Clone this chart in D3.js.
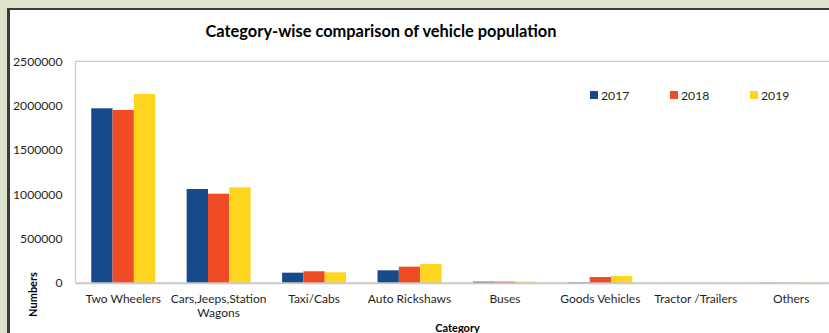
<!DOCTYPE html>
<html>
<head>
<meta charset="utf-8">
<script src="https://cdn.jsdelivr.net/npm/d3@7"></script>
<style>
  html, body { margin: 0; padding: 0; background: #dfe3cb; overflow: hidden; }
  svg { display: block; }
  text { font-family: Lato, "Open Sans", sans-serif; }
</style>
</head>
<body>
<script>
// Registered vehicles by category and year
const categories = ["Two Wheelers", "Cars,Jeeps,Station Wagons", "Taxi/Cabs", "Auto Rickshaws",
                    "Buses", "Goods Vehicles", "Tractor /Trailers", "Others"];
const years = ["2017", "2018", "2019"];
const values2017 = [1969000, 1058000, 113000, 140000, 12000, 6000, 500, 3000];
const values2018 = [1950000, 1005000, 129000, 181000, 12000, 64000, 500, 3000];
const values2019 = [2131000, 1077000, 117000, 211000, 12000, 76000, 500, 3000];
const yTicks = [0, 500000, 1000000, 1500000, 2000000, 2500000];
const colors = ["#174a8b", "#ef4b24", "#fdd41e"];

const series = [values2017, values2018, values2019];
const rows = categories.map((c, i) => ({ category: c, values: years.map((y, j) => ({ year: y, value: series[j][i] })) }));

const W = 829, H = 333;
const svg = d3.select("body").append("svg").attr("width", W).attr("height", H);

// chart card with dark edge
svg.append("rect").attr("x", 7).attr("y", 8).attr("width", W).attr("height", H).attr("fill", "#3b3b3b");
svg.append("rect").attr("x", 10).attr("y", 10).attr("width", W).attr("height", H).attr("fill", "#ffffff");

const plot = { left: 75.5, top: 61.3, right: 838.9, bottom: 282.7 };

const x0 = d3.scaleBand().domain(categories).range([plot.left, plot.right]).paddingInner(0.33).paddingOuter(0.165);
const x1 = d3.scaleBand().domain(years).range([0, x0.bandwidth()]);
const y = d3.scaleLinear().domain([0, 2500000]).range([plot.bottom, plot.top]);

// plot frame
svg.append("path")
  .attr("d", `M${plot.left},${plot.bottom} V${plot.top} H${W + 10}`)
  .attr("fill", "none").attr("stroke", "#c9c9c9").attr("stroke-width", 1.2);

// y axis labels
const yAxis = d3.axisLeft(y).tickValues(yTicks).tickSize(0).tickPadding(13).tickFormat(d3.format("d"));
const gy = svg.append("g").attr("transform", `translate(${plot.left},0)`).call(yAxis);
gy.select(".domain").remove();
gy.selectAll("text").attr("font-size", 12.2).attr("fill", "#1f1f1f").attr("font-family", "Lato, sans-serif");

// bars
const groups = svg.append("g").selectAll("g").data(rows).join("g")
  .attr("transform", d => `translate(${x0(d.category)},0)`);
groups.selectAll("rect").data(d => d.values).join("rect")
  .attr("x", d => x1(d.year))
  .attr("width", x1.bandwidth())
  .attr("y", d => y(d.value))
  .attr("height", d => y(0) - y(d.value))
  .attr("fill", (d, i) => colors[i]);

// baseline
svg.append("line").attr("x1", plot.left).attr("x2", W + 10)
  .attr("y1", plot.bottom + 0.5).attr("y2", plot.bottom + 0.5)
  .attr("stroke", "#bfbfbf").attr("stroke-width", 2).attr("stroke-opacity", 0.85);

// x axis labels (wrapped)
const labelLines = {
  "Cars,Jeeps,Station Wagons": ["Cars,Jeeps,Station", "Wagons"]
};
const gx = svg.append("g");
categories.forEach(c => {
  const lines = labelLines[c] || [c];
  const cx = x0(c) + x0.bandwidth() / 2;
  const t = gx.append("text")
    .attr("x", cx)
    .attr("y", 303)
    .attr("text-anchor", "middle")
    .attr("font-size", 12)
    .attr("fill", "#1f1f1f");
  lines.forEach((l, i) => t.append("tspan").attr("x", cx).attr("dy", i ? 14 : 0).text(l));
});

// title
svg.append("text").attr("x", 381).attr("y", 37).attr("text-anchor", "middle")
  .attr("font-size", 16.4).attr("font-weight", "bold").attr("fill", "#000")
  .text("Category-wise comparison of vehicle population");

// axis titles
svg.append("text").attr("transform", "translate(37,294.5) rotate(-90)").attr("text-anchor", "middle")
  .attr("font-size", 11).attr("font-weight", "bold").attr("fill", "#000").text("Numbers");
svg.append("text").attr("x", 457.5).attr("y", 332).attr("text-anchor", "middle")
  .attr("font-size", 11).attr("font-weight", "bold").attr("fill", "#000").text("Category");

// legend
const legend = svg.append("g").selectAll("g").data(years).join("g")
  .attr("transform", (d, i) => `translate(${590 + i * 80},91)`);
legend.append("rect").attr("width", 8).attr("height", 8).attr("fill", (d, i) => colors[i]);
legend.append("text").attr("x", 11).attr("y", 8.8).attr("font-size", 12.2).attr("fill", "#1f1f1f").text(d => d);
</script>
</body>
</html>
